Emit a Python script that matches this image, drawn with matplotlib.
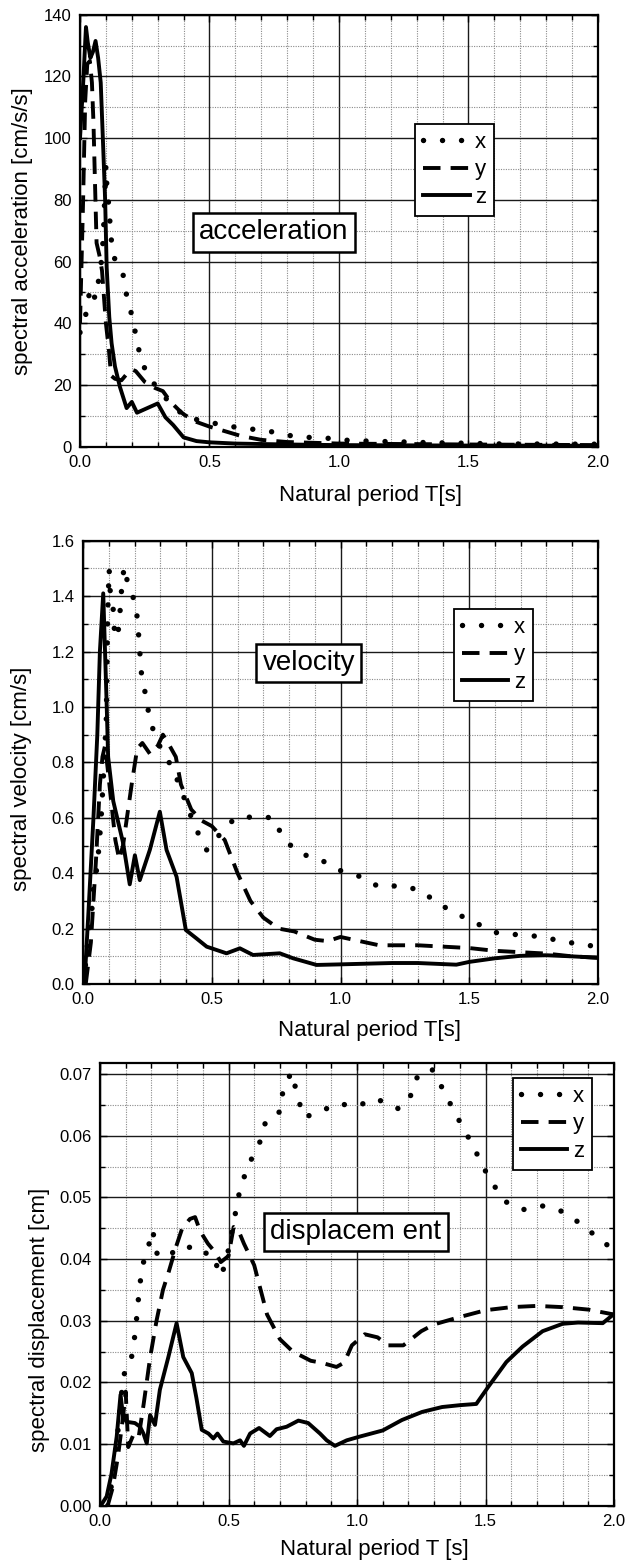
import numpy as np
import matplotlib
matplotlib.use("Agg")
import matplotlib.pyplot as plt
from matplotlib.ticker import MultipleLocator, FormatStrFormatter

plt.rcParams['font.family'] = ['Liberation Sans', 'DejaVu Sans']

# --- spectral acceleration [cm/s/s] ---
acc_x_T = [0.0, 0.013, 0.026, 0.039, 0.05, 0.058, 0.071, 0.084, 0.09, 0.10, 0.104, 0.113, 0.118,
           0.129, 0.145, 0.165, 0.18, 0.203, 0.219, 0.238, 0.28, 0.35, 0.41, 0.5, 0.575, 0.73,
           0.81, 0.885, 0.96, 1.04, 1.12, 1.2, 1.27, 1.34, 1.5, 1.6, 2.0]
acc_x = [37, 40, 44, 51.6, 50, 48, 53.5, 61, 68, 91, 84, 76.7, 69,
         61.8, 59, 56.4, 49, 41.6, 34.6, 27.2, 21, 13.8, 9.5, 7.9, 6.6, 5,
         3.6, 3, 2.7, 2, 1.8, 1.6, 1.5, 1.3, 1.1, 0.9, 0.8]
acc_y_T = [0.0, 0.012, 0.02, 0.028, 0.038, 0.046, 0.052, 0.058, 0.064, 0.075, 0.085, 0.1, 0.112,
           0.12, 0.135, 0.16, 0.18, 0.2, 0.215, 0.25, 0.29, 0.32, 0.35, 0.38, 0.4, 0.45, 0.5,
           0.56, 0.62, 0.7, 0.8, 1.0, 1.5, 2.0]
acc_y = [40, 80, 112, 124, 125, 118, 105, 85, 66, 62, 57, 40, 31,
         23, 22, 21.5, 23.5, 25, 24.5, 21, 19, 18, 14.5, 12, 10.5, 8, 6.5,
         5, 3.5, 2.2, 1.5, 1.0, 0.7, 0.5]
acc_z_T = [0.0, 0.013, 0.023, 0.03, 0.04, 0.05, 0.06, 0.07, 0.08, 0.09, 0.097, 0.103, 0.113,
           0.122, 0.135, 0.154, 0.18, 0.20, 0.22, 0.26, 0.30, 0.33, 0.36, 0.40, 0.45, 0.5,
           0.6, 0.8, 1.0, 1.5, 2.0]
acc_z = [100, 119, 136, 131, 126, 128, 131.5, 126, 118, 96, 80, 58, 42,
         33.5, 26, 19.4, 12.5, 14.5, 11, 12.5, 14, 9.5, 7, 3, 1.8, 1.4,
         1.0, 0.7, 0.5, 0.35, 0.3]

# --- spectral velocity [cm/s] ---
vel_x_T = [0.005, 0.01, 0.02, 0.033, 0.039, 0.054, 0.062, 0.07, 0.078, 0.09, 0.095, 0.101, 0.105,
           0.117, 0.123, 0.135, 0.143, 0.149, 0.159, 0.172, 0.188, 0.205, 0.214, 0.22, 0.227,
           0.244, 0.259, 0.29, 0.324, 0.369, 0.434, 0.48, 0.54, 0.589, 0.667, 0.74, 0.777,
           0.839, 0.92, 0.998, 1.07, 1.15, 1.23, 1.31, 1.38, 1.46, 1.54, 1.61, 1.69, 1.77,
           1.85, 1.92, 2.0]
vel_x = [0.0, 0.087, 0.17, 0.256, 0.339, 0.423, 0.50, 0.6, 0.736, 0.96, 1.33, 1.497, 1.42,
         1.35, 1.25, 1.26, 1.34, 1.42, 1.506, 1.452, 1.41, 1.37, 1.28, 1.2, 1.115,
         1.037, 0.953, 0.87, 0.82, 0.73, 0.568, 0.484, 0.55, 0.598, 0.604, 0.60, 0.526,
         0.472, 0.45, 0.41, 0.39, 0.351, 0.355, 0.339, 0.29, 0.25, 0.214, 0.184, 0.178, 0.172,
         0.157, 0.145, 0.135]
vel_y_T = [0.01, 0.03, 0.05, 0.065, 0.075, 0.085, 0.095, 0.11, 0.125, 0.14, 0.155, 0.17, 0.19,
           0.21, 0.23, 0.26, 0.29, 0.31, 0.33, 0.36, 0.38, 0.42, 0.46, 0.5, 0.55, 0.6, 0.65,
           0.7, 0.76, 0.82, 0.9, 0.95, 1.0, 1.05, 1.15, 1.3, 1.4, 1.5, 1.6, 1.7, 1.8, 1.9, 2.0]
vel_y = [0.0, 0.15, 0.45, 0.72, 0.82, 0.86, 0.78, 0.65, 0.52, 0.45, 0.5, 0.6, 0.73,
         0.85, 0.87, 0.83, 0.86, 0.9, 0.87, 0.82, 0.72, 0.63, 0.59, 0.57, 0.52, 0.4, 0.3,
         0.24, 0.2, 0.19, 0.16, 0.155, 0.17, 0.16, 0.14, 0.14, 0.135, 0.13, 0.12, 0.115, 0.11,
         0.10, 0.095]
vel_z_T = [0.005, 0.02, 0.04, 0.055, 0.065, 0.078, 0.085, 0.091, 0.097, 0.117, 0.155, 0.181,
           0.201, 0.22, 0.259, 0.298, 0.324, 0.363, 0.399, 0.44, 0.48, 0.557, 0.609, 0.66,
           0.764, 0.816, 0.907, 0.995, 1.2, 1.3, 1.45, 1.5, 1.6, 1.7, 1.8, 1.9, 2.0]
vel_z = [0.0, 0.25, 0.6, 0.9, 1.2, 1.41, 1.2, 1.02, 0.82, 0.66, 0.51, 0.36,
         0.465, 0.375, 0.484, 0.622, 0.484, 0.387, 0.195, 0.165, 0.135, 0.111, 0.129, 0.105,
         0.111, 0.093, 0.069, 0.071, 0.076, 0.076, 0.07, 0.08, 0.093, 0.102, 0.104, 0.1, 0.095]

# --- spectral displacement [cm] ---
dis_x_T = [0.03, 0.045, 0.065, 0.084, 0.097, 0.123, 0.136, 0.145, 0.153, 0.166, 0.192, 0.205,
           0.22, 0.245, 0.268, 0.3, 0.324, 0.36, 0.393, 0.433, 0.472, 0.495, 0.529, 0.545,
           0.577, 0.62, 0.646, 0.70, 0.713, 0.745, 0.768, 0.791, 0.843, 0.921, 0.999, 1.074,
           1.16, 1.203, 1.23, 1.29, 1.34, 1.378, 1.425, 1.472, 1.516, 1.578, 1.644, 1.722,
           1.8, 1.878, 1.949, 2.0]
dis_x = [0.0, 0.0034, 0.0101, 0.0182, 0.022, 0.0241, 0.0277, 0.0314, 0.0352, 0.039, 0.0426, 0.0447,
         0.041, 0.0402, 0.0404, 0.0418, 0.0417, 0.042, 0.0409, 0.041, 0.0372, 0.0405, 0.0479, 0.0514,
         0.0552, 0.0587, 0.0625, 0.0639, 0.0676, 0.0703, 0.0666, 0.063, 0.0636, 0.0652, 0.0648, 0.066,
         0.0644, 0.0658, 0.0693, 0.0709, 0.0671, 0.0639, 0.0604, 0.0566, 0.0529, 0.0493, 0.048, 0.0486,
         0.0477, 0.0455, 0.043, 0.0415]
dis_y_T = [0.03, 0.05, 0.07, 0.09, 0.1, 0.11, 0.13, 0.15, 0.17, 0.195, 0.22, 0.245, 0.268, 0.296,
           0.32, 0.35, 0.37, 0.39, 0.42, 0.45, 0.47, 0.5, 0.52, 0.54, 0.56, 0.6, 0.65, 0.7, 0.75,
           0.82, 0.86, 0.92, 0.95, 0.98, 1.03, 1.08, 1.12, 1.18, 1.25, 1.3, 1.4, 1.5, 1.6, 1.7,
           1.8, 1.9, 2.0]
dis_y = [0.0, 0.003, 0.008, 0.0145, 0.0185, 0.0095, 0.0115, 0.011, 0.0165, 0.024, 0.03, 0.035, 0.038, 0.042,
         0.045, 0.0465, 0.0468, 0.0445, 0.0425, 0.041, 0.0395, 0.0405, 0.0452, 0.0445, 0.0425, 0.039, 0.031, 0.027, 0.025,
         0.0235, 0.0232, 0.0225, 0.0232, 0.026, 0.0278, 0.0273, 0.026, 0.026, 0.0283, 0.0294, 0.0306, 0.0317, 0.0322, 0.0324,
         0.0322, 0.0318, 0.031]
dis_z_T = [0.003, 0.026, 0.045, 0.065, 0.08, 0.09, 0.104, 0.136, 0.156, 0.169, 0.182, 0.195, 0.214,
           0.233, 0.266, 0.298, 0.324, 0.357, 0.375, 0.396, 0.422, 0.441, 0.457, 0.48, 0.519, 0.545,
           0.56, 0.584, 0.619, 0.661, 0.687, 0.726, 0.772, 0.81, 0.856, 0.882, 0.914, 0.96, 1.01,
           1.1, 1.175, 1.253, 1.331, 1.4, 1.464, 1.511, 1.581, 1.644, 1.722, 1.8, 1.86, 1.956, 2.0]
dis_z = [0.0, 0.0015, 0.0052, 0.0112, 0.018, 0.0144, 0.0136, 0.0134, 0.0128, 0.0117, 0.0101, 0.0147, 0.0131,
         0.0188, 0.0241, 0.0296, 0.0241, 0.0215, 0.0175, 0.0123, 0.0117, 0.0109, 0.0117, 0.0104, 0.0101, 0.0106,
         0.0097, 0.0117, 0.0126, 0.0113, 0.0124, 0.0128, 0.0138, 0.0134, 0.0117, 0.0106, 0.0097, 0.0106, 0.0112,
         0.0122, 0.0139, 0.0152, 0.016, 0.0163, 0.0165, 0.0193, 0.0233, 0.0258, 0.0283, 0.0295, 0.0297, 0.0296, 0.0311]

labels = ['x', 'y', 'z']

# round dots, butt dashes, plain solid
DOT = dict(ls=(0, (0.01, 3.5)), lw=3.9, dash_capstyle='round', color='black')
DASH = dict(ls=(0, (4.5, 2.6)), lw=2.8, dash_capstyle='butt', color='black')
SOLID = dict(ls='-', lw=2.8, color='black')


def setup_axes(ax, ymax, ymajor, yminor, yfmt):
    ax.set_xlim(0, 2.0)
    ax.set_ylim(0, ymax)
    ax.xaxis.set_major_locator(MultipleLocator(0.5))
    ax.xaxis.set_minor_locator(MultipleLocator(0.1))
    ax.yaxis.set_major_locator(MultipleLocator(ymajor))
    ax.yaxis.set_minor_locator(MultipleLocator(yminor))
    ax.xaxis.set_major_formatter(FormatStrFormatter('%.1f'))
    ax.yaxis.set_major_formatter(FormatStrFormatter(yfmt))
    ax.grid(which='major', color='#1a1a1a', lw=1.0, ls='-')
    ax.grid(which='minor', color='#8a8a8a', lw=0.8, ls=(0, (1, 1.2)))
    ax.set_axisbelow(True)
    ax.tick_params(which='both', direction='in', top=True, right=True, labelsize=12, width=1.0)
    ax.tick_params(which='major', length=5, pad=6)
    ax.tick_params(which='minor', length=3.5)
    for s in ax.spines.values():
        s.set_linewidth(1.6)


def draw_series(ax, data):
    for (t, v), style, lab in zip(data, [DOT, DASH, SOLID], labels):
        ax.plot(t, v, label=lab, **style)


def add_legend(ax, x0, y0):
    leg = ax.legend(loc='upper left', bbox_to_anchor=(x0, y0), fontsize=16, frameon=True,
                    fancybox=False, edgecolor='black', framealpha=1, handlelength=2.1,
                    handletextpad=0.25, borderpad=0.35, labelspacing=0.3, borderaxespad=0)
    leg.get_frame().set_linewidth(1.3)


def add_tag(ax, x, y, text):
    ax.text(x, y, text, transform=ax.transAxes, ha='center', va='center', fontsize=20,
            bbox=dict(boxstyle='square,pad=0.22', fc='white', ec='black', lw=1.8), zorder=5)


fig = plt.figure(figsize=(6.3, 15.65), dpi=100)

# acceleration
ax1 = fig.add_axes([0.127, 0.7146, 0.822, 0.276])
setup_axes(ax1, 140, 20, 10, '%d')
draw_series(ax1, [(acc_x_T, acc_x), (acc_y_T, acc_y), (acc_z_T, acc_z)])
add_legend(ax1, 0.647, 0.747)
add_tag(ax1, 0.3745, 0.496, 'acceleration')
ax1.set_xlabel('Natural period T[s]', fontsize=16, va='center')
ax1.xaxis.set_label_coords(0.56, -0.112)
ax1.set_ylabel('spectral acceleration [cm/s/s]', fontsize=16, va='center')
ax1.yaxis.set_label_coords(-0.112, 0.50)

# velocity
ax2 = fig.add_axes([0.132, 0.3712, 0.817, 0.2833])
setup_axes(ax2, 1.6, 0.2, 0.1, '%.1f')
draw_series(ax2, [(vel_x_T, vel_x), (vel_y_T, vel_y), (vel_z_T, vel_z)])
add_legend(ax2, 0.72, 0.846)
add_tag(ax2, 0.4385, 0.725, 'velocity')
ax2.set_xlabel('Natural period T[s]', fontsize=16, va='center')
ax2.xaxis.set_label_coords(0.557, -0.104)
ax2.set_ylabel('spectral velocity [cm/s]', fontsize=16, va='center')
ax2.yaxis.set_label_coords(-0.119, 0.4625)

# displacement
ax3 = fig.add_axes([0.1587, 0.0379, 0.816, 0.2829])
setup_axes(ax3, 0.0718, 0.01, 0.005, '%.2f')
draw_series(ax3, [(dis_x_T, dis_x), (dis_y_T, dis_y), (dis_z_T, dis_z)])
add_legend(ax3, 0.8035, 0.966)
add_tag(ax3, 0.498, 0.619, 'displacem ent')
ax3.set_xlabel('Natural period T [s]', fontsize=16, va='center')
ax3.xaxis.set_label_coords(0.533, -0.10)
ax3.set_ylabel('spectral displacement [cm]', fontsize=16, va='center')
ax3.yaxis.set_label_coords(-0.117, 0.419)

fig.savefig('out.png', dpi=100)
